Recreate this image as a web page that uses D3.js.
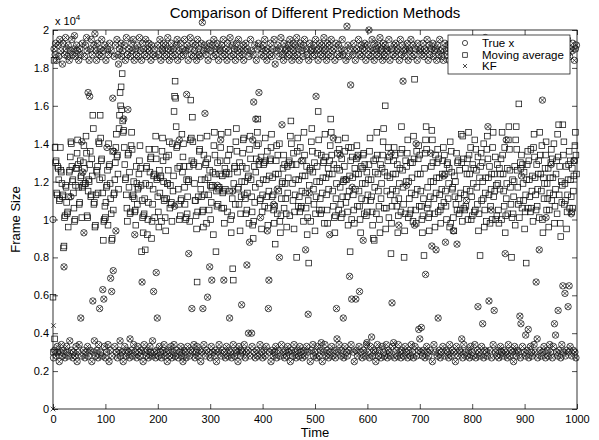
<!DOCTYPE html>
<html><head><meta charset="utf-8">
<script src="https://cdn.jsdelivr.net/npm/d3@7"></script>
<style>
body{margin:0;background:#fff}
svg{display:block}
text{font-family:"Liberation Sans",Arial,Helvetica,sans-serif;fill:#000}
</style>
</head><body>
<svg id="chart" width="599" height="440"></svg>
<script>
// ---- data (frame size in units of 100 bytes; time = array index) ----
const xTicks = [0,100,200,300,400,500,600,700,800,900,1000];
const xTickLabels = ["0","100","200","300","400","500","600","700","800","900","1000"];
const yTicks = [0,20,40,60,80,100,120,140,160,180,200];
const yTickLabels = ["0","0.2","0.4","0.6","0.8","1","1.2","1.4","1.6","1.8","2"];
const seriesNames = ["True x","Moving average","KF"];

const trueX = [
100,27,190,31,187,193,28,184,33,30, 192,186,25,195,30,189,34,28,182,193, 31,75,187,27,196,190,33,30,186,192, 28,184,36,189,112,31,195,187,27,30, 190,197,28,186,33,192,25,189,30,184,
34,190,187,48,28,141,193,125,31,93, 186,27,192,30,196,189,33,167,28,184, 165,31,190,195,25,187,57,30,192,36, 198,28,189,184,31,193,27,34,187,53, 190,30,186,195,28,63,189,58,33,192,
27,184,30,138,190,34,187,25,193,31, 69,189,62,28,164,73,136,186,33,192, 94,30,195,27,187,182,31,190,36,28, 193,186,30,189,25,153,192,33,184,28, 196,31,187,158,30,190,27,37,186,193,
31,189,28,195,34,184,92,30,190,187, 27,192,33,186,30,196,28,189,31,184, 67,193,25,190,34,187,30,195,28,186, 31,190,27,193,189,33,30,184,192,28, 36,187,62,30,190,186,27,72,31,48,
192,28,187,33,195,30,184,27,190,189, 31,193,34,186,28,192,30,187,25,196, 190,31,184,28,189,33,193,27,186,30, 190,34,107,187,28,192,31,195,184,27, 189,142,30,193,33,186,28,190,25,187,
31,195,30,189,27,166,192,33,184,82, 190,28,196,31,187,53,30,193,186,34, 189,27,192,30,184,33,195,28,190,187, 31,186,25,193,30,204,53,189,34,192, 156,28,187,31,190,59,184,30,193,75,
27,189,33,68,192,30,186,195,28,190, 31,187,25,193,118,30,184,34,190,189, 142,28,192,31,186,195,68,30,187,27, 190,33,184,193,28,189,31,48,196,30, 186,27,192,115,34,187,190,28,184,31,
193,30,189,25,195,33,186,190,28,31, 55,187,30,192,184,34,189,27,193,30, 76,190,31,40,186,88,28,195,189,40, 33,142,187,162,30,192,27,153,184,31, 190,28,193,167,131,34,101,187,30,190,
27,192,186,31,195,28,189,33,184,94, 190,53,68,30,187,193,25,186,31,190, 28,108,195,30,182,33,189,27,116,192, 31,186,80,190,28,196,34,150,187,30, 184,193,27,189,31,190,28,186,33,192,
30,187,195,25,190,31,184,28,193,189, 34,186,30,192,27,196,187,31,190,28, 184,33,193,30,131,189,27,186,192,31, 195,28,84,190,33,187,30,50,184,114, 193,25,189,31,190,186,34,28,192,187,
30,195,165,27,189,33,184,190,28,193, 31,187,35,192,25,186,30,196,189,34, 190,28,184,31,193,187,27,192,92,30, 186,195,33,189,28,143,190,31,184,27, 193,53,37,187,30,192,34,186,134,28,
190,31,195,187,48,27,189,33,121,184, 30,202,28,192,186,31,70,190,171,34, 58,117,187,30,193,25,189,184,58,31, 190,28,133,195,33,62,187,30,192,186, 27,190,89,31,189,193,28,184,34,35,
192,30,187,200,27,190,33,186,38,195, 28,189,31,184,193,30,25,190,187,34, 192,28,186,31,196,189,27,190,33,184, 193,30,187,28,192,186,34,190,27,189, 31,195,30,184,28,135,190,56,33,187,
35,192,27,186,193,31,189,28,190,34, 97,184,30,195,27,187,31,192,173,28, 189,186,33,190,30,118,193,27,184,31, 190,189,28,195,34,186,30,192,27,187, 97,33,190,140,28,184,193,31,42,189,
37,190,30,43,187,28,193,31,186,190, 27,71,189,33,195,30,184,28,192,187, 31,135,190,86,25,193,186,34,189,30, 190,84,184,28,192,48,187,31,195,27, 189,30,186,190,33,184,123,28,193,88,
31,189,187,30,192,27,184,34,190,193, 28,186,31,189,94,30,195,187,25,190, 33,87,184,28,192,189,31,186,30,193, 37,190,27,187,34,184,192,30,189,110, 28,195,186,31,190,27,187,33,193,184,
30,189,28,192,186,34,190,27,195,187, 31,54,184,30,193,28,189,190,33,186, 45,192,27,187,31,196,184,30,190,28, 149,189,57,193,31,186,105,27,190,187, 34,192,52,184,30,189,195,28,186,31,
190,27,187,193,33,184,30,192,189,28, 186,31,195,82,30,142,190,27,187,34, 192,184,28,190,31,193,186,30,189,25, 190,33,184,195,28,187,31,192,30,186, 189,49,27,45,123,190,33,184,193,30,
187,28,39,192,186,31,190,42,27,195, 189,33,184,30,192,28,187,190,34,186, 30,193,67,189,37,27,184,190,84,31, 195,187,28,192,163,30,186,33,190,189, 27,101,193,31,184,28,190,187,34,192,
30,129,186,27,190,33,195,45,189,39, 184,30,192,28,52,187,31,190,193,27, 186,34,189,65,30,192,184,61,28,190, 31,187,195,54,30,65,186,33,190,103, 28,189,193,31,131,184,30,190,27,192
];

const movingAvg = [
59,30,184,37,138,130,131,114,113,128, 127,121,110,111,138,126,125,119,112,113, 85,86,101,102,118,117,109,103,104,96, 112,125,126,133,141,140,128,120,121,114, 106,99,100,118,127,127,135,142,129,117,
108,109,131,122,123,101,117,118,130,139, 127,119,119,144,135,102,101,115,121,120, 129,136,112,113,132,123,155,148,108,109, 96,97,113,126,125,128,114,141,140,121, 155,143,131,132,122,114,89,99,100,107,
101,109,117,118,126,97,140,128,129,119, 111,103,89,90,136,105,113,114,121,130, 138,145,133,134,124,116,148,155,167,160, 170,158,177,152,146,147,138,129,121,122, 113,106,99,134,135,117,125,103,104,139,
146,137,112,113,120,111,104,105,97,128, 119,108,116,117,124,131,139,127,118,83, 110,101,93,102,103,111,84,119,127,128, 92,100,109,137,118,125,132,133,90,99, 108,116,123,124,101,137,144,132,121,122,
112,104,96,126,114,122,123,99,136,143, 131,120,110,111,101,94,133,111,119,119, 126,134,141,106,118,108,109,99,140,115, 123,157,165,173,164,149,138,139,127,116, 108,100,128,102,110,111,145,125,133,140,
128,117,108,100,101,121,103,112,120,121, 128,99,142,163,143,131,154,141,129,130, 119,110,110,102,95,67,104,112,128,136, 137,143,116,121,112,104,105,96,134,113, 121,129,130,98,144,132,122,113,105,126,
118,100,109,117,118,125,92,139,146,134, 124,83,115,107,130,108,116,117,124,131, 138,145,106,123,114,115,106,98,127,116, 124,125,131,104,146,134,124,115,137,100, 93,102,111,74,68,119,127,128,108,141,
148,136,125,116,117,108,130,94,103,112, 120,128,135,142,143,113,120,111,103,127, 105,114,122,123,98,137,144,132,121,112, 104,97,90,99,128,109,117,125,132,139, 146,153,140,129,119,110,111,133,95,104,
113,121,129,130,107,143,131,121,112,136, 97,106,115,123,131,132,138,145,112,122, 113,105,98,107,87,124,131,139,103,134, 124,115,140,99,93,102,111,119,120,127, 134,106,129,119,111,103,96,128,114,122,
130,131,102,144,152,140,129,119,110,135, 95,104,113,121,129,80,136,143,107,121, 112,104,138,106,107,115,123,131,99,146, 134,123,114,106,128,92,101,110,77,118, 126,127,99,141,148,136,125,116,108,130,
94,103,112,120,128,135,157,142,105,120, 111,103,134,105,114,122,130,131,98,145, 133,122,113,105,98,127,116,124,131,139, 153,146,134,124,115,107,129,101,93,102, 111,119,127,135,142,105,137,126,117,108,
101,132,103,112,120,121,128,136,143,109, 121,112,104,97,138,115,123,83,131,138, 100,133,122,113,105,98,127,116,124,132, 139,107,134,124,115,107,100,93,128,111, 119,127,134,135,103,129,119,110,102,125,
104,113,121,129,136,143,110,121,112,104, 97,90,131,89,117,125,132,103,146,134, 124,115,107,100,93,129,111,119,127,134, 141,148,106,125,160,95,106,115,123,131, 138,101,133,122,113,82,98,107,116,124,
131,138,110,134,124,115,107,129,93,102, 111,119,127,135,104,149,137,126,117,108, 80,94,103,131,120,128,135,142,101,120, 111,103,130,105,114,122,130,99,144,132, 174,113,105,98,136,116,124,132,139,107,
134,124,115,107,100,93,102,111,81,127, 135,142,149,137,106,117,108,101,94,103, 112,120,128,147,142,130,120,111,103,96, 134,114,122,130,137,104,132,122,113,105, 98,107,116,124,131,138,109,134,124,115,
107,100,129,130,111,119,127,96,141,98, 136,125,116,117,101,94,123,112,120,108, 135,105,130,131,111,103,126,105,114,145, 130,99,144,132,106,113,105,127,107,116, 124,132,100,146,134,124,115,138,100,112,
102,129,119,127,104,142,105,137,126,117, 108,133,94,103,122,81,128,135,110,130, 120,111,140,96,105,114,122,99,137,144, 132,122,113,128,98,107,116,124,100,138, 146,112,124,115,133,100,118,102,129,119,
105,98,127,116,124,132,100,146,134,124, 115,107,138,93,102,111,119,127,103,142, 149,137,126,117,108,80,101,121,103,112, 120,128,97,142,149,137,126,117,108,161, 101,110,130,127,134,106,129,119,110,125,
95,104,113,77,121,129,136,106,131,121, 112,104,137,106,115,123,99,138,145,133, 122,113,105,129,107,116,124,131,101,146, 134,124,115,139,100,93,122,111,119,127, 134,141,105,119,111,127,96,105,114,122,
130,137,110,132,122,113,140,98,107,116, 124,131,103,145,133,150,113,128,98,91, 120,109,118,150,134,141,108,119,110,128, 95,104,113,121,129,136,106,131,121,112, 104,127,106,115,123,131,139,146,134,124
];

const kf = [
0,44,190,31,187,193,28,184,33,30, 192,186,25,195,30,189,34,28,182,193, 31,75,187,27,196,190,33,30,186,192, 28,184,36,189,112,31,195,187,27,30, 190,197,28,186,33,192,25,189,30,184,
34,190,187,48,28,141,193,125,31,93, 186,27,192,30,196,189,33,167,28,184, 165,31,190,195,25,187,57,30,192,36, 198,28,189,184,31,193,27,34,187,53, 190,30,186,195,28,63,189,58,33,192,
27,184,30,138,190,34,187,25,193,31, 69,189,62,28,164,73,136,186,33,192, 94,30,195,27,187,182,31,190,36,28, 193,186,30,189,25,153,192,33,184,28, 196,31,187,158,30,190,27,37,186,193,
31,189,28,195,34,184,92,30,190,187, 27,192,33,186,30,196,28,189,31,184, 67,193,25,190,34,187,30,195,28,186, 31,190,27,193,189,33,30,184,192,28, 36,187,62,30,190,186,27,72,31,48,
192,28,187,33,195,30,184,27,190,189, 31,193,34,186,28,192,30,187,25,196, 190,31,184,28,189,33,193,27,186,30, 190,34,107,187,28,192,31,195,184,27, 189,142,30,193,33,186,28,190,25,187,
31,195,30,189,27,166,192,33,184,82, 190,28,196,31,187,53,30,193,186,34, 189,27,192,30,184,33,195,28,190,187, 31,186,25,193,30,204,53,189,34,192, 156,28,187,31,190,59,184,30,193,75,
27,189,33,68,192,30,186,195,28,190, 31,187,25,193,118,30,184,34,190,189, 142,28,192,31,186,195,68,30,187,27, 190,33,184,193,28,189,31,48,196,30, 186,27,192,115,34,187,190,28,184,31,
193,30,189,25,195,33,186,190,28,31, 55,187,30,192,184,34,189,27,193,30, 76,190,31,40,186,88,28,195,189,40, 33,142,187,162,30,192,27,153,184,31, 190,28,193,167,131,34,101,187,30,190,
27,192,186,31,195,28,189,33,184,94, 190,53,68,30,187,193,25,186,31,190, 28,108,195,30,182,33,189,27,116,192, 31,186,80,190,28,196,34,150,187,30, 184,193,27,189,31,190,28,186,33,192,
30,187,195,25,190,31,184,28,193,189, 34,186,30,192,27,196,187,31,190,28, 184,33,193,30,131,189,27,186,192,31, 195,28,84,190,33,187,30,50,184,114, 193,25,189,31,190,186,34,28,192,187,
30,195,165,27,189,33,184,190,28,193, 31,187,35,192,25,186,30,196,189,34, 190,28,184,31,193,187,27,192,92,30, 186,195,33,189,28,143,190,31,184,27, 193,53,37,187,30,192,34,186,134,28,
190,31,195,187,48,27,189,33,121,184, 30,202,28,192,186,31,70,190,171,34, 58,117,187,30,193,25,189,184,58,31, 190,28,133,195,33,62,187,30,192,186, 27,190,89,31,189,193,28,184,34,35,
192,30,187,200,27,190,33,186,38,195, 28,189,31,184,193,30,25,190,187,34, 192,28,186,31,196,189,27,190,33,184, 193,30,187,28,192,186,34,190,27,189, 31,195,30,184,28,135,190,56,33,187,
35,192,27,186,193,31,189,28,190,34, 97,184,30,195,27,187,31,192,173,28, 189,186,33,190,30,118,193,27,184,31, 190,189,28,195,34,186,30,192,27,187, 97,33,190,140,28,184,193,31,42,189,
37,190,30,43,187,28,193,31,186,190, 27,71,189,33,195,30,184,28,192,187, 31,135,190,86,25,193,186,34,189,30, 190,84,184,28,192,48,187,31,195,27, 189,30,186,190,33,184,123,28,193,88,
31,189,187,30,192,27,184,34,190,193, 28,186,31,189,94,30,195,187,25,190, 33,87,184,28,192,189,31,186,30,193, 37,190,27,187,34,184,192,30,189,110, 28,195,186,31,190,27,187,33,193,184,
30,189,28,192,186,34,190,27,195,187, 31,54,184,30,193,28,189,190,33,186, 45,192,27,187,31,196,184,30,190,28, 149,189,57,193,31,186,105,27,190,187, 34,192,52,184,30,189,195,28,186,31,
190,27,187,193,33,184,30,192,189,28, 186,31,195,82,30,142,190,27,187,34, 192,184,28,190,31,193,186,30,189,25, 190,33,184,195,28,187,31,192,30,186, 189,49,27,45,123,190,33,184,193,30,
187,28,39,192,186,31,190,42,27,195, 189,33,184,30,192,28,187,190,34,186, 30,193,67,189,37,27,184,190,84,31, 195,187,28,192,163,30,186,33,190,189, 27,101,193,31,184,28,190,187,34,192,
30,129,186,27,190,33,195,45,189,39, 184,30,192,28,52,187,31,190,193,27, 186,34,189,65,30,192,184,61,28,190, 31,187,195,54,30,65,186,33,190,103, 28,189,193,31,131,184,30,190,27,192
];

// ---- drawing ----
const svg = d3.select("#chart");
const plot = {left:53, right:577, top:30, bottom:409};
const x = d3.scaleLinear().domain([0,1000]).range([plot.left, plot.right]);
const y = d3.scaleLinear().domain([0,200]).range([plot.bottom, plot.top]);
const ink = "#111", lw = 0.75;

// markers
const gm = svg.append("g");
gm.selectAll("circle.tx").data(trueX).join("circle")
  .attr("class","tx").attr("cx",(d,i)=>x(i)).attr("cy",d=>y(d)).attr("r",3.2)
  .attr("fill","none").attr("stroke",ink).attr("stroke-width",lw);
gm.selectAll("rect.ma").data(movingAvg).join("rect")
  .attr("class","ma").attr("x",(d,i)=>x(i)-2.8).attr("y",d=>y(d)-2.8)
  .attr("width",5.6).attr("height",5.6)
  .attr("fill","none").attr("stroke",ink).attr("stroke-width",lw);
const xPath = "M-2.3,-2.3L2.3,2.3M-2.3,2.3L2.3,-2.3";
gm.selectAll("path.kf").data(kf).join("path")
  .attr("class","kf").attr("d",xPath)
  .attr("transform",(d,i)=>`translate(${x(i)},${y(d)})`)
  .attr("fill","none").attr("stroke",ink).attr("stroke-width",lw);

// axes (ticks inward on all four sides)
const fs = 11;
const axB = svg.append("g").attr("transform",`translate(0,${plot.bottom})`)
  .call(d3.axisBottom(x).tickValues(xTicks).tickFormat((d,i)=>xTickLabels[i]).tickSize(-5).tickPadding(6));
const axL = svg.append("g").attr("transform",`translate(${plot.left},0)`)
  .call(d3.axisLeft(y).tickValues(yTicks).tickFormat((d,i)=>yTickLabels[i]).tickSize(-5).tickPadding(4));
const axT = svg.append("g").attr("transform",`translate(0,${plot.top})`)
  .call(d3.axisTop(x).tickValues(xTicks).tickFormat("").tickSize(-5));
const axR = svg.append("g").attr("transform",`translate(${plot.right},0)`)
  .call(d3.axisRight(y).tickValues(yTicks).tickFormat("").tickSize(-5));
[axB,axL,axT,axR].forEach(g=>{
  g.select(".domain").remove();
  g.selectAll("line").attr("stroke","#000").attr("stroke-width",0.7);
  g.selectAll("text").attr("font-size",fs).attr("font-family","Liberation Sans, Arial, sans-serif").attr("fill","#000");
});
svg.append("rect").attr("x",plot.left).attr("y",plot.top)
  .attr("width",plot.right-plot.left).attr("height",plot.bottom-plot.top)
  .attr("fill","none").attr("stroke","#000").attr("stroke-width",0.8);

// exponent label
const ex = svg.append("text").attr("x",55).attr("y",25).attr("font-size",11);
ex.append("tspan").text("x 10");
ex.append("tspan").attr("dy",-5).attr("font-size",8).text("4");

// title and axis labels
svg.append("text").attr("x",(plot.left+plot.right)/2).attr("y",18)
  .attr("text-anchor","middle").attr("font-size",15).text("Comparison of Different Prediction Methods");
svg.append("text").attr("x",(plot.left+plot.right)/2).attr("y",437)
  .attr("text-anchor","middle").attr("font-size",13).text("Time");
svg.append("text").attr("transform",`translate(20,${(plot.top+plot.bottom)/2}) rotate(-90)`)
  .attr("text-anchor","middle").attr("font-size",13).text("Frame Size");

// legend
const lg = svg.append("g");
lg.append("rect").attr("x",448).attr("y",35).attr("width",122).attr("height",39)
  .attr("fill","#fff").attr("stroke","#000").attr("stroke-width",0.7);
const rows = [43,55,66];
seriesNames.forEach((name,i)=>{
  const cy = rows[i], cx = 465;
  if(i===0) lg.append("circle").attr("cx",cx).attr("cy",cy).attr("r",2.6).attr("fill","none").attr("stroke",ink).attr("stroke-width",lw);
  if(i===1) lg.append("rect").attr("x",cx-2.3).attr("y",cy-2.3).attr("width",4.6).attr("height",4.6).attr("fill","none").attr("stroke",ink).attr("stroke-width",lw);
  if(i===2) lg.append("path").attr("d","M-2,-2L2,2M-2,2L2,-2").attr("transform",`translate(${cx},${cy})`).attr("fill","none").attr("stroke",ink).attr("stroke-width",lw);
  lg.append("text").attr("x",482).attr("y",cy+4).attr("font-size",11.5).text(name);
});
</script>
</body></html>
